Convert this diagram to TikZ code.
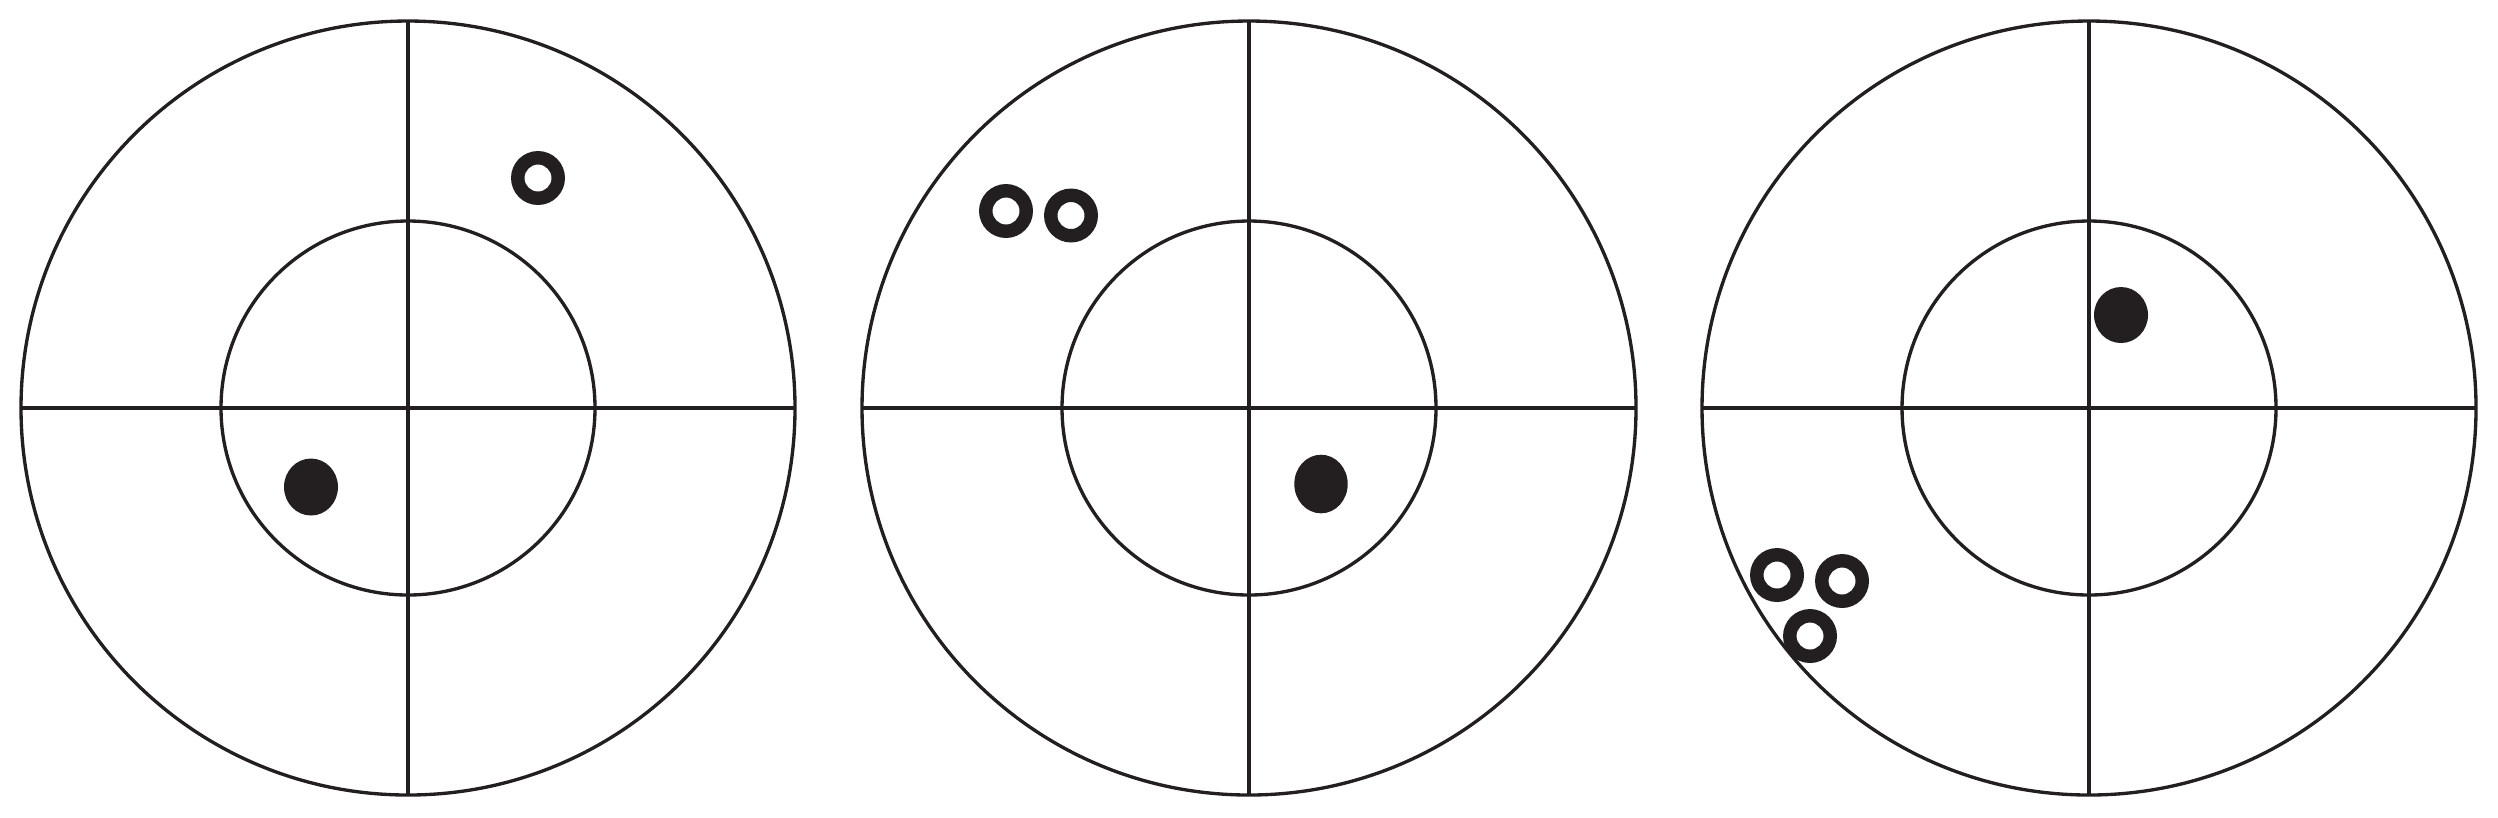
\documentclass[tikz,border=0pt]{standalone}
\definecolor{ink}{HTML}{231F20}
\begin{document}
\begin{tikzpicture}[x=0.01cm,y=-0.01cm,
  gridline/.style={draw=ink,line width=0.95pt},
  ringhole/.style={fill=ink,even odd rule},
  hithole/.style={fill=ink}]
\useasboundingbox (0,0) rectangle (2498,817);
\foreach \cx in {408,1249,2089} {
  \draw[gridline] (\cx,408) circle[radius=387];
  \draw[gridline] (\cx,408) circle[radius=187];
  \draw[gridline] (\cx-387,408) -- (\cx+387,408);
  \draw[gridline] (\cx,21) -- (\cx,795);
}
% target 1
\fill[ringhole] (538,178) circle[radius=27] (538,178) circle[radius=13.5];
\fill[hithole] (311,487) ellipse[x radius=27, y radius=28.5];
% target 2
\fill[ringhole] (1006,211) circle[radius=27] (1006,211) circle[radius=13.5];
\fill[ringhole] (1071,215.5) circle[radius=27] (1071,215.5) circle[radius=13.5];
\fill[hithole] (1321,484) ellipse[x radius=26.7, y radius=29.3];
% target 3
\fill[hithole] (2121,315) ellipse[x radius=27, y radius=28];
\fill[ringhole] (1777,575) circle[radius=27] (1777,575) circle[radius=13.5];
\fill[ringhole] (1842,581) circle[radius=27] (1842,581) circle[radius=13.5];
\fill[ringhole] (1810,636) circle[radius=27] (1810,636) circle[radius=13.5];
\end{tikzpicture}
\end{document}
